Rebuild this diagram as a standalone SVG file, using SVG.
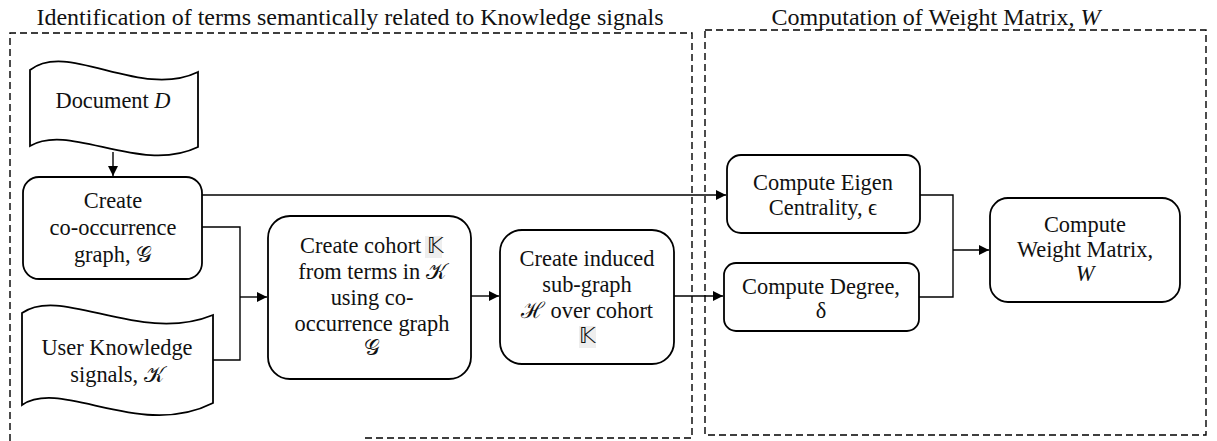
<svg xmlns="http://www.w3.org/2000/svg" width="1217" height="441" viewBox="0 0 1217 441" font-family="'Liberation Serif', 'Times New Roman', serif">
<defs>
<marker id="arr" viewBox="0 0 10 10" refX="10" refY="5" markerWidth="10" markerHeight="10" markerUnits="userSpaceOnUse" orient="auto">
<path d="M0,0 L10,5 L0,10 Z" fill="#000"/>
</marker>
<style>
text{font-family:'Liberation Serif','Times New Roman',serif;font-size:22.4px;fill:#111;text-anchor:middle}
.title{font-size:24px}
.it{font-style:italic}
.box{fill:#fff;stroke:#000;stroke-width:1.8}
.dash{fill:none;stroke:#000;stroke-width:1.4;stroke-dasharray:7,4}
.con{fill:none;stroke:#000;stroke-width:1.4}
.hl{fill:#eeeeee}
</style>
</defs>
<rect width="1217" height="441" fill="#fff"/>
<g id="frames">
<path class="dash" d="M10,441 L10,33 L692,33 L692,438 L362,438"/>
<rect class="dash" x="705" y="30" width="501" height="405"/>
<text class="title" x="350" y="25">Identification of terms semantically related to Knowledge signals</text>
<text class="title" x="936" y="25">Computation of Weight Matrix, <tspan class="it">W</tspan></text>
</g>
<g id="connectors">
<path class="con" d="M113,152 V176" marker-end="url(#arr)"/>
<path class="con" d="M202,195 H726" marker-end="url(#arr)"/>
<path class="con" d="M202,227 H240 V360 H213"/>
<path class="con" d="M240,297 H267" marker-end="url(#arr)"/>
<path class="con" d="M471,296 H499" marker-end="url(#arr)"/>
<path class="con" d="M674,296 H723" marker-end="url(#arr)"/>
<path class="con" d="M920,195 H953 V297 H919"/>
<path class="con" d="M953,250 H989" marker-end="url(#arr)"/>
</g>
<g id="document">
<path class="box" d="M30,70 C68,40 140,100 198,72 L198,147 C140,175 70,122 30,146 Z"/>
<text x="113" y="108">Document <tspan class="it">D</tspan></text>
</g>
<g id="cooccurrence">
<rect class="box" x="23" y="177" width="179" height="102" rx="16"/>
<text x="113" y="208">Create</text>
<text x="113" y="235">co-occurrence</text>
<text x="113" y="262">graph, 𝒢</text>
</g>
<g id="knowledge">
<path class="box" d="M22,313 C62,285 140,345 213,315 L213,403 C140,440 62,378 22,405 Z"/>
<text x="117" y="355">User Knowledge</text>
<text x="117" y="382">signals, 𝒦</text>
</g>
<g id="cohort">
<rect class="box" x="268" y="216" width="203" height="163" rx="22"/>
<rect class="hl" x="425" y="236" width="17" height="22"/>
<text x="372" y="253">Create cohort 𝕂</text>
<text x="372" y="279">from terms in 𝒦</text>
<text x="372" y="305">using co-</text>
<text x="372" y="331">occurrence graph</text>
<text x="372" y="355">𝒢</text>
</g>
<g id="induced">
<rect class="box" x="500" y="230" width="174" height="134" rx="22"/>
<rect class="hl" x="579" y="326" width="17" height="22"/>
<text x="587" y="266">Create induced</text>
<text x="587" y="292">sub-graph</text>
<text x="587" y="318">ℋ over cohort</text>
<text x="587" y="343">𝕂</text>
</g>
<g id="eigen">
<rect class="box" x="727" y="155" width="193" height="78" rx="14"/>
<text x="823" y="190">Compute Eigen</text>
<text x="823" y="215">Centrality, ϵ</text>
</g>
<g id="degree">
<rect class="box" x="724" y="263" width="195" height="68" rx="12"/>
<text x="821" y="294">Compute Degree,</text>
<text x="821" y="318">δ</text>
</g>
<g id="weight">
<rect class="box" x="990" y="198" width="190" height="104" rx="18"/>
<text x="1085" y="232">Compute</text>
<text x="1085" y="257">Weight Matrix,</text>
<text x="1085" y="281" class="it">W</text>
</g>
</svg>
